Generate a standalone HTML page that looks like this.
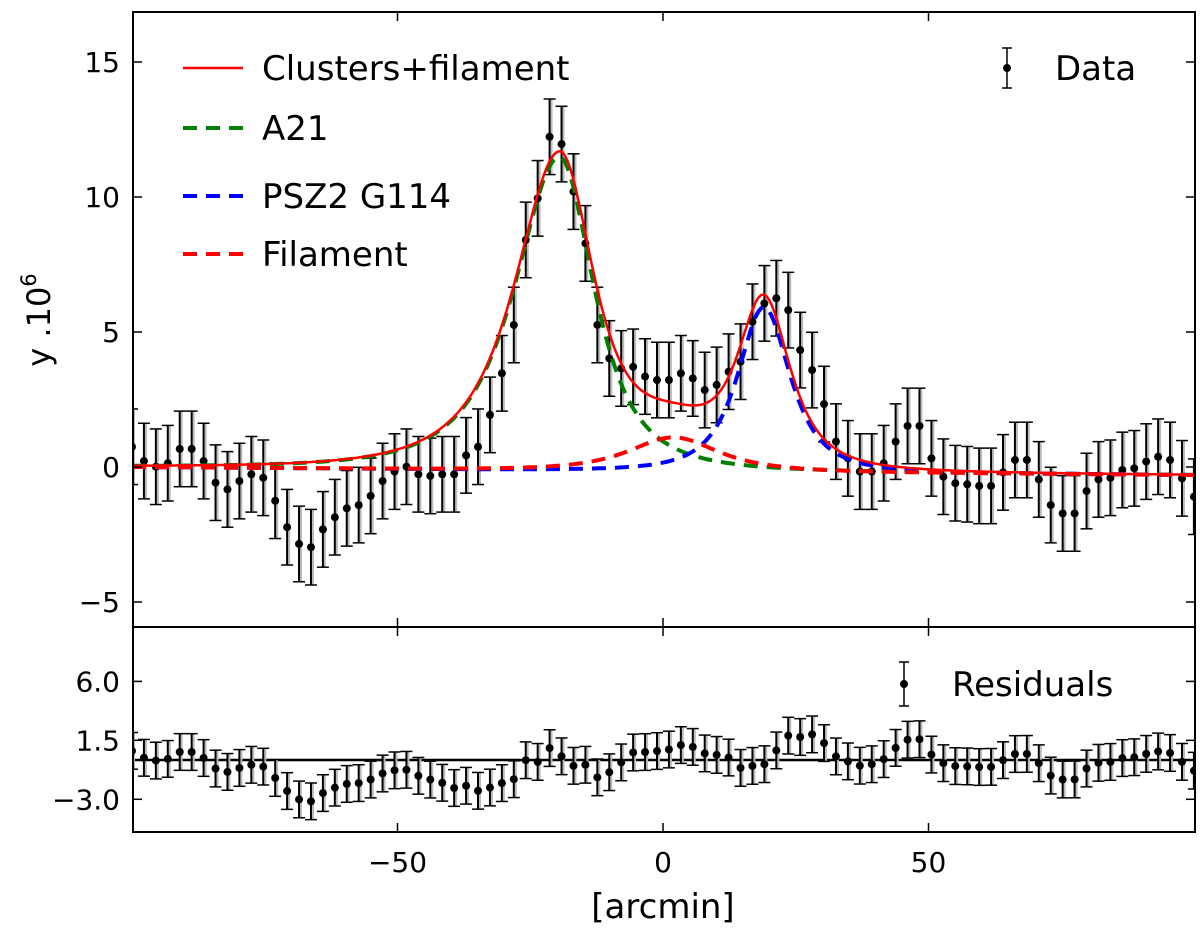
<!DOCTYPE html>
<html><head><meta charset="utf-8"><style>
body{margin:0;background:#fff}
svg{font-family:"DejaVu Sans","Liberation Sans",sans-serif}
</style></head><body>
<svg id="chart" width="1200" height="933" viewBox="0 0 1200 933" xmlns="http://www.w3.org/2000/svg">
<g id="topPanel"></g>
<g id="botPanel"></g>
</svg>
<script>
const dataValues=[0.75,0.22,0.01,0.14,0.67,0.67,0.22,-0.58,-0.83,-0.52,-0.27,-0.4,-1.25,-2.23,-2.85,-2.97,-2.31,-1.86,-1.53,-1.41,-1.07,-0.52,-0.17,0.01,-0.27,-0.33,-0.27,-0.27,0.43,0.75,1.93,3.47,5.26,8.41,9.95,12.23,11.96,10.2,8.28,5.26,4.02,3.65,3.71,3.35,3.22,3.22,3.47,3.28,2.85,3.04,3.53,3.9,5.38,6.06,6.25,5.81,4.33,3.59,2.33,0.94,0.32,-0.17,-0.17,0.14,0.94,1.52,1.52,0.32,-0.36,-0.6,-0.64,-0.7,-0.7,-0.2,0.26,0.26,-0.46,-1.41,-1.72,-1.72,-0.89,-0.46,-0.4,-0.11,-0.05,0.2,0.38,0.26,-0.42,-1.1];
const dataErrors=dataValues.map(()=>1.4);
const xStart=-100, xStepArcmin=2.247;
const a21Params=[11.6,-19.5,13,10];
const pszParams=[6.1,19,7.6,7.6];
const filParams=[1.25,2,13,13];
const baselineParams=[-0.15,-0.0015];
const xTicks=[-50,0,50];
const yTicksTop=[15,10,5,0,-5];
const yTicksBot=[6.0,1.5,-3.0];

const NS="http://www.w3.org/2000/svg";
const L=133,R=1195,T1=12,B1=627,B2=832;
const sx=v=>663+v*5.31;
const sy=v=>467-v*27;
const sr=v=>760-v*13.1;
function el(tag,attrs,parent){const e=document.createElementNS(NS,tag);for(const k in attrs)e.setAttribute(k,attrs[k]);parent.appendChild(e);return e;}
const gTop=document.getElementById('topPanel'),gBot=document.getElementById('botPanel');
const prof=(p,x)=>p[0]*Math.pow(1+((x-p[1])/(x<p[1]?p[2]:p[3]))**2,-1.5);
const base=x=>baselineParams[0]+baselineParams[1]*x;
const a21=x=>prof(a21Params,x)+base(x);
const psz=x=>prof(pszParams,x)+base(x);
const fil=x=>prof(filParams,x)+base(x);
const tot=x=>prof(a21Params,x)+prof(pszParams,x)+prof(filParams,x)+base(x);
const xs=dataValues.map((_,i)=>xStart+i*xStepArcmin);
const resid=dataValues.map((v,i)=>v-tot(xs[i]));

const defs=el('defs',{},document.getElementById('chart'));
const cp=el('clipPath',{id:'c1'},defs);el('rect',{x:L,y:T1,width:R-L,height:B1-T1},cp);
const cp2=el('clipPath',{id:'c2'},defs);el('rect',{x:L,y:B1,width:R-L,height:B2-B1},cp2);

function errbars(g,vals,scale,name){
  vals.forEach((v,i)=>{
    const x=sx(xs[i]),e=dataErrors[i];
    const gg=el('g',{},g);
    
    
    el('line',{x1:x+2,x2:x+2,y1:scale(v+e),y2:scale(v-e),stroke:'#bbb','stroke-width':2},gg);
    el('line',{x1:x,x2:x,y1:scale(v+e),y2:scale(v-e),stroke:'#000','stroke-width':2},gg);
    el('line',{x1:x-6,x2:x+6,y1:scale(v+e),y2:scale(v+e),stroke:'#000','stroke-width':1.5},gg);
    el('line',{x1:x-6,x2:x+6,y1:scale(v-e),y2:scale(v-e),stroke:'#000','stroke-width':1.5},gg);
    el('circle',{cx:x,cy:scale(v),r:4,fill:'#000'},gg);
  });
}
function curve(g,f,color,dash,name){
  let d='';for(let x=-100;x<=100.01;x+=0.5){d+=(d?'L':'M')+sx(x).toFixed(1)+','+sy(f(x)).toFixed(1);}
  const p=el('path',{d,fill:'none',stroke:color,'stroke-width':dash?4:2.5},g);
  if(dash)p.setAttribute('stroke-dasharray',dash);
  
  
}
const gt=el('g',{'clip-path':'url(#c1)'},gTop);
errbars(gt,dataValues,sy,'data');
curve(gt,a21,'#008000','14,9','a21-curve');
curve(gt,psz,'#0000ff','14,9','psz2-curve');
curve(gt,fil,'#ff0000','14,9','filament-curve');
curve(gt,tot,'#ff0000',null,'total-model-curve');
const gb=el('g',{'clip-path':'url(#c2)'},gBot);
const zl=el('line',{x1:L,x2:R,y1:sr(0),y2:sr(0),stroke:'#000','stroke-width':2.5},gb);


errbars(gb,resid,sr,'residual');

[[T1,B1],[B1,B2]].forEach(([a,b],k)=>{
  const g=k?gBot:gTop;
  const f=el('rect',{x:L,y:a,width:R-L,height:b-a,fill:'none',stroke:'#000','stroke-width':2},g);
  
  
  xTicks.forEach(t=>{const x=sx(t);el('line',{x1:x,x2:x,y1:b,y2:b-9,stroke:'#000','stroke-width':1.5},g);el('line',{x1:x,x2:x,y1:a,y2:a+9,stroke:'#000','stroke-width':1.5},g);});
});
function txt(g,x,y,s,anchor,size,name){const t=el('text',{x,y,'text-anchor':anchor,'font-size':size,fill:'#000'},g);t.textContent=s;


return t;}
yTicksTop.forEach(t=>{const y=sy(t);el('line',{x1:L,x2:L+9,y1:y,y2:y,stroke:'#000','stroke-width':1.5},gTop);el('line',{x1:R,x2:R-9,y1:y,y2:y,stroke:'#000','stroke-width':1.5},gTop);txt(gTop,120,y+10,t<0?'\u2212'+(-t):String(t),'end',28,'y-tick-label');});
yTicksBot.forEach(t=>{const y=sr(t);el('line',{x1:L,x2:L+9,y1:y,y2:y,stroke:'#000','stroke-width':1.5},gBot);el('line',{x1:R,x2:R-9,y1:y,y2:y,stroke:'#000','stroke-width':1.5},gBot);txt(gBot,120,y+10,(t<0?'\u2212'+(-t).toFixed(1):t.toFixed(1)),'end',28,'residual-tick-label');});
xTicks.forEach(t=>txt(gBot,sx(t),872,t<0?'\u2212'+(-t):String(t),'middle',28,'x-tick-label'));
txt(gBot,663,918,'[arcmin]','middle',34,'x-axis-title');
const yl=txt(gTop,0,0,'','middle',32,'y-axis-title');
yl.setAttribute('transform','translate(50,320) rotate(-90)');
yl.innerHTML='y .10<tspan dy="-14" font-size="21">6</tspan>';

const lg=el('g',{},gTop);


[['Clusters+filament','#ff0000',null,68],['A21','#008000','14,9',128],['PSZ2 G114','#0000ff','14,9',196],['Filament','#ff0000','14,9',254]].forEach(([s,c,d,y])=>{
  const l=el('line',{x1:183,x2:243,y1:y,y2:y,stroke:c,'stroke-width':d?4:2.5},lg);if(d)l.setAttribute('stroke-dasharray',d);
  
  
  txt(lg,262,y+12,s,'start',34,'legend-entry');
});
function mk(g,x,y,h){el('line',{x1:x,x2:x,y1:y-h,y2:y+h,stroke:'#000','stroke-width':1.5},g);el('line',{x1:x-5,x2:x+5,y1:y-h,y2:y-h,stroke:'#000','stroke-width':1.5},g);el('line',{x1:x-5,x2:x+5,y1:y+h,y2:y+h,stroke:'#000','stroke-width':1.5},g);el('circle',{cx:x,cy:y,r:4,fill:'#000'},g);}
mk(lg,1007,68,20);txt(lg,1055,80,'Data','start',34,'legend-entry-data');
mk(gBot,904,684,22);txt(gBot,952,696,'Residuals','start',34,'legend-entry-residuals');
</script>
</body></html>
